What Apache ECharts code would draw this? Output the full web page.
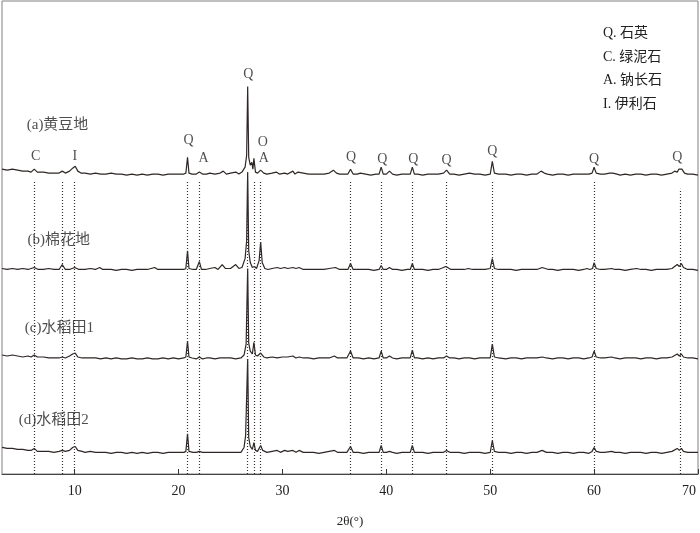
<!DOCTYPE html>
<html>
<head>
<meta charset="utf-8">
<script src="https://cdn.jsdelivr.net/npm/echarts@6/dist/echarts.min.js"></script>
<style>
  html, body { margin: 0; padding: 0; background: #fff; }
  #xrd { width: 700px; height: 533px; }
</style>
</head>
<body>
<div id="xrd"></div>
<script>
// 2θ tick labels
const tickValues = [10, 20, 30, 40, 50, 60, 70]

// vertical offset of each pattern (stacked plot)
const offsets = [304, 207, 117, 21]
const sampleNames = ['(a)黄豆地', '(b)棉花地', '(c)水稻田1', '(d)水稻田2']

// [2θ, intensity], relative to each pattern's baseline
const patternA = [[3,6],[3.5,5],[4,6],[4.5,5],[5,4],[5.5,4],[5.8,3],[6.1,6],[6.4,3],[7,3],[7.5,2],[8,2],[8.5,2],[8.8,4],[9.1,2],[9.5,4],[9.8,7],[10.05,9],[10.3,4],[10.6,2],[11,2],[11.5,1],[12,2],[12.5,1],[13,1],[13.5,2],[14,1],[14.5,1],[15,0],[15.5,1],[16,0],[16.5,1],[17,0],[17.5,1],[18,1],[18.5,0],[19,1],[19.5,1],[20,1],[20.5,1],[20.7,2],[20.86,18],[21,2],[21.3,1],[21.7,1],[22,3],[22.3,1],[22.7,1],[23,2],[23.5,1],[24,2],[24.3,4],[24.6,1],[25,2],[25.5,3],[25.8,1],[26.1,3],[26.4,8],[26.55,20],[26.65,90],[26.75,18],[26.9,10],[27.05,13],[27.15,6],[27.25,17],[27.4,3],[27.6,2],[27.9,5],[28.2,2],[28.5,1],[29,2],[29.4,3],[29.7,1],[30.2,2],[30.5,1],[31,4],[31.2,1],[31.5,3],[32,2],[32.5,1],[33,1],[33.5,1],[34,1],[34.5,2],[34.9,5],[35.2,2],[35.5,1],[36,1],[36.3,1],[36.55,6],[36.8,1],[37.2,1],[37.5,2],[38,1],[38.5,0],[39,1],[39.3,1],[39.5,8],[39.7,1],[40,1],[40.3,4],[40.6,1],[41,0],[41.5,1],[42,1],[42.3,1],[42.5,8],[42.7,1],[43,1],[43.5,0],[44,1],[44.5,1],[45,1],[45.5,2],[45.8,5],[46.1,1],[46.5,1],[47,0],[47.5,1],[48,2],[48.5,1],[49,1],[49.5,0],[50,1],[50.2,14],[50.4,2],[50.8,1],[51.5,1],[52,0],[52.5,1],[53,1],[53.5,0],[54,1],[54.5,1],[54.9,4],[55.2,2],[55.5,1],[56,0],[56.5,1],[57,1],[57.5,0],[58,1],[58.5,1],[59,1],[59.5,1],[59.8,2],[60,8],[60.2,2],[60.6,1],[61,1],[61.5,2],[61.8,2],[62.2,1],[62.5,0],[63,1],[63.5,0],[64,1],[64.5,1],[65,0],[65.5,1],[66,1],[66.5,0],[67,1],[67.5,2],[67.75,4],[68,3],[68.15,6],[68.3,5],[68.45,6],[68.7,2],[69,1],[69.5,1],[70,0]]

const patternB = [[3,2],[3.5,1],[4,2],[4.5,1],[5,2],[5.5,1],[6.1,3],[6.5,1],[7,1],[7.5,2],[8,1],[8.5,1],[8.8,6],[9.1,1],[9.5,1],[10,3],[10.4,1],[11,1],[11.5,2],[12,1],[12.4,3],[12.7,1],[13,1],[13.5,1],[14,0],[14.5,1],[15,1],[15.5,0],[16,1],[16.5,1],[17,1],[17.7,3],[18,1],[18.5,1],[19,1],[19.5,1],[20,1],[20.5,1],[20.7,2],[20.86,20],[21,2],[21.4,1],[21.7,1],[22,9],[22.2,1],[22.6,1],[23,2],[23.5,3],[23.8,1],[24.2,6],[24.5,2],[25,2],[25.5,6],[25.8,2],[26.1,3],[26.4,12],[26.55,30],[26.65,100],[26.75,20],[26.9,8],[27.1,3],[27.3,4],[27.5,2],[27.75,10],[27.9,29],[28.05,8],[28.3,2],[28.6,1],[29,2],[29.5,3],[29.8,2],[30.2,3],[30.5,2],[31,3],[31.3,2],[31.6,3],[32,1],[32.5,1],[33,1],[33.5,1],[34,1],[34.5,2],[35.1,3],[35.5,1],[36,1],[36.3,1],[36.55,7],[36.8,1],[37.3,1],[37.8,1],[38.3,1],[38.8,0],[39.3,1],[39.5,5],[39.7,1],[40,1],[40.3,3],[40.6,1],[41,1],[41.5,0],[42,1],[42.3,1],[42.5,7],[42.7,1],[43,1],[43.5,1],[44,0],[44.5,1],[45,1],[45.5,3],[45.7,4],[45.9,3],[46.2,1],[46.6,1],[47,1],[47.5,1],[47.9,2],[48.3,1],[49,1],[49.5,1],[50,2],[50.2,12],[50.4,2],[50.8,1],[51.5,1],[52,1],[52.5,0],[53,1],[53.5,1],[54,1],[54.5,1],[55,3],[55.3,2],[55.6,1],[56,1],[56.5,0],[57,1],[57.5,1],[58,1],[58.5,0],[59,1],[59.3,2],[59.6,1],[59.85,2],[60,8],[60.2,2],[60.6,1],[61,1],[61.7,2],[62,1],[62.5,1],[63,0],[63.5,1],[64.1,2],[64.5,1],[65,1],[65.5,0],[66,1],[66.5,1],[67,1],[67.5,2],[68,6],[68.2,4],[68.4,7],[68.6,3],[69,1],[69.5,1],[70,0]]

const patternC = [[3,4],[3.5,3],[4,4],[4.5,3],[5,2],[5.5,3],[5.8,2],[6.1,4],[6.4,2],[7,2],[7.5,1],[8,1],[8.5,1],[8.8,2],[9.1,1],[9.5,3],[9.8,5],[10.05,6],[10.3,2],[10.7,1],[11,1],[11.5,1],[12,1],[12.5,0],[13,1],[13.5,0],[14,1],[14.5,0],[15,0],[15.5,1],[16,0],[16.5,0],[17,1],[17.5,0],[18,0],[18.5,1],[19,0],[19.5,1],[20,0],[20.5,1],[20.7,2],[20.86,18],[21,2],[21.3,1],[21.7,0],[22,2],[22.3,0],[22.7,1],[23,1],[23.5,0],[24,1],[24.5,1],[25,1],[25.5,0],[26,1],[26.3,4],[26.5,15],[26.65,92],[26.75,16],[26.9,8],[27.1,5],[27.25,17],[27.4,4],[27.6,3],[27.9,6],[28.2,2],[28.5,1],[29,2],[29.5,1],[30,2],[30.5,2],[31,3],[31.3,1],[31.6,2],[32,1],[32.5,1],[33,0],[33.5,1],[34,1],[34.5,1],[35,3],[35.3,1],[35.7,1],[36.2,1],[36.55,8],[36.8,1],[37.3,1],[37.8,0],[38.3,1],[38.8,0],[39.3,1],[39.5,8],[39.7,1],[40,1],[40.3,3],[40.6,1],[41,0],[41.5,1],[42,1],[42.3,1],[42.5,9],[42.7,1],[43,1],[43.5,0],[44,1],[44.5,0],[45,1],[45.5,1],[45.8,3],[46.1,1],[46.5,1],[47,0],[47.5,1],[48,1],[48.5,0],[49,1],[49.5,1],[50,1],[50.2,15],[50.4,2],[50.8,1],[51.5,0],[52,1],[52.5,1],[53,0],[53.5,1],[54,1],[54.5,1],[55,2],[55.4,1],[56,0],[56.5,1],[57,1],[57.5,0],[58,1],[58.5,1],[59,0],[59.5,1],[59.8,2],[60,8],[60.2,2],[60.6,1],[61,1],[61.7,2],[62,1],[62.5,0],[63,1],[63.5,1],[64,1],[64.5,0],[65,1],[65.5,1],[66,0],[66.5,1],[67,1],[67.5,2],[68,5],[68.2,3],[68.4,5],[68.6,2],[69,1],[69.5,1],[70,0]]

const patternD = [[3,6],[3.5,5],[4,5],[4.5,4],[5,4],[5.5,3],[5.8,3],[6.1,5],[6.4,2],[7,2],[7.5,2],[8,1],[8.5,2],[8.8,3],[9.1,2],[9.5,3],[9.8,6],[10.05,7],[10.3,3],[10.7,2],[11,1],[11.5,2],[12,1],[12.5,1],[13,1],[13.5,0],[14,1],[14.5,1],[15,0],[15.5,1],[16,0],[16.5,1],[17,0],[17.5,1],[18,1],[18.5,0],[19,1],[19.5,1],[20,1],[20.5,1],[20.7,2],[20.86,20],[21,2],[21.4,1],[21.7,1],[22,2],[22.3,1],[22.7,1],[23,1],[23.5,1],[24,1],[24.5,1],[25,1],[25.5,1],[26,1],[26.3,6],[26.45,18],[26.65,96],[26.75,16],[26.9,7],[27.1,4],[27.25,11],[27.4,3],[27.6,2],[27.9,8],[28.1,3],[28.5,1],[29,2],[29.5,3],[29.8,1],[30.2,3],[30.5,2],[31,3],[31.3,1],[31.6,3],[32,1],[32.5,1],[33,1],[33.5,0],[34,1],[34.5,2],[35,3],[35.3,1],[35.7,1],[36.2,1],[36.55,7],[36.8,1],[37.3,1],[37.8,0],[38.3,1],[38.8,1],[39.3,1],[39.5,8],[39.7,1],[40,1],[40.3,2],[40.6,1],[41,0],[41.5,1],[42,1],[42.3,1],[42.5,8],[42.7,1],[43,1],[43.5,1],[44,0],[44.5,1],[45,1],[45.5,1],[45.8,3],[46.1,1],[46.5,1],[47,1],[47.5,0],[48,1],[48.5,1],[49,1],[49.5,0],[50,1],[50.2,13],[50.4,2],[50.8,1],[51.5,1],[52,0],[52.5,1],[53,1],[53.5,0],[54,1],[54.5,1],[55,3],[55.4,1],[56,1],[56.5,0],[57,1],[57.5,1],[58,0],[58.5,1],[59,1],[59.5,0],[59.8,2],[60,6],[60.2,2],[60.6,1],[61,1],[61.7,2],[62,1],[62.5,1],[63,0],[63.5,1],[64,1],[64.5,1],[65,0],[65.5,1],[66,1],[66.5,0],[67,1],[67.5,2],[68,5],[68.2,3],[68.4,5],[68.6,2],[69,1],[69.5,1],[70,1]]

// reference 2θ positions marked with dotted lines
const refLines = [6.1, 8.8, 10.0, 20.85, 22.0, 26.65, 27.3, 27.9, 36.55, 39.5, 42.5, 45.8, 50.2, 60.0, 68.3]

// phase letters above pattern (a): [2θ, height, letter]
const phaseMarks = [[6.25,323,'C'],[10.0,323,'I'],[20.96,339,'Q'],[22.4,321,'A'],[26.7,406,'Q'],[28.1,337,'O'],[28.2,321,'A'],[36.6,322,'Q'],[39.6,320,'Q'],[42.6,320,'Q'],[45.8,319,'Q'],[50.2,328,'Q'],[60.0,320,'Q'],[68.0,322,'Q']]

// sample name positions: [2θ, height]
const namePos = [[5.38,355],[5.45,238],[5.19,148],[4.62,55]]

const legendLines = ['Q. 石英', 'C. 绿泥石', 'A. 钠长石', 'I. 伊利石']

const serif = '"Liberation Serif", "Noto Sans CJK SC", serif'
const traceColor = '#2e2725'

let patterns = [patternA, patternB, patternC, patternD]
let series = patterns.map(function (pts, i) {
  return {
    name: sampleNames[i],
    type: 'line',
    showSymbol: false,
    symbol: 'none',
    silent: true,
    z: 3,
    lineStyle: { color: traceColor, width: 1.2 },
    data: pts.map(function (p) { return [p[0], p[1] + offsets[i]] })
  }
})

// dotted reference lines
series.push({
  type: 'line',
  data: [],
  z: 1,
  markLine: {
    silent: true,
    symbol: 'none',
    label: { show: false },
    lineStyle: { color: '#333', type: [1, 2], width: 1.2 },
    data: refLines.map(function (t) {
      let top = t === 68.3 ? 290 : 299
      return [{ coord: [t, 0] }, { coord: [t, top] }]
    })
  }
})

// phase letters
series.push({
  type: 'scatter',
  symbolSize: 0,
  silent: true,
  z: 5,
  data: phaseMarks,
  label: {
    show: true,
    position: 'inside',
    formatter: function (p) { return p.data[2] },
    fontFamily: serif,
    fontSize: 14,
    color: '#222'
  }
})

// sample names
series.push({
  type: 'scatter',
  symbolSize: 0,
  silent: true,
  z: 5,
  data: namePos.map(function (p, i) { return [p[0], p[1], sampleNames[i]] }),
  label: {
    show: true,
    position: 'right',
    distance: 0,
    formatter: function (p) { return p.data[2] },
    fontFamily: serif,
    fontSize: 15,
    color: '#222'
  }
})

let chart = echarts.init(document.getElementById('xrd'))
chart.setOption({
  animation: false,
  backgroundColor: '#fff',
  grid: {
    left: 2, right: 2, top: 1, bottom: 51,
    show: true,
    borderColor: '#808080',
    borderWidth: 1
  },
  xAxis: {
    type: 'value',
    min: 3,
    max: 70,
    name: '2θ(°)',
    nameLocation: 'middle',
    nameGap: 41,
    nameTextStyle: { fontFamily: serif, fontSize: 13, color: '#222' },
    axisLine: { show: true, lineStyle: { color: '#444', width: 1 } },
    axisTick: { show: true, inside: true, length: 5, customValues: tickValues, lineStyle: { color: '#333' } },
    axisLabel: {
      customValues: tickValues,
      margin: 10,
      fontFamily: serif,
      fontSize: 14,
      color: '#222',
      formatter: function (v) { return v === 70 ? '{r|70}' : String(v) },
      rich: { r: { fontFamily: serif, fontSize: 14, color: '#222', padding: [0, 18, 0, 0] } }
    },
    splitLine: { show: false }
  },
  yAxis: {
    type: 'value',
    min: 0,
    max: 481,
    show: false
  },
  graphic: legendLines.map(function (t, i) {
    return {
      type: 'text',
      left: 603,
      top: [26, 50, 73, 97][i],
      style: { text: t, font: '14px ' + serif, fill: '#222' }
    }
  }),
  series: series
})
</script>
</body>
</html>
